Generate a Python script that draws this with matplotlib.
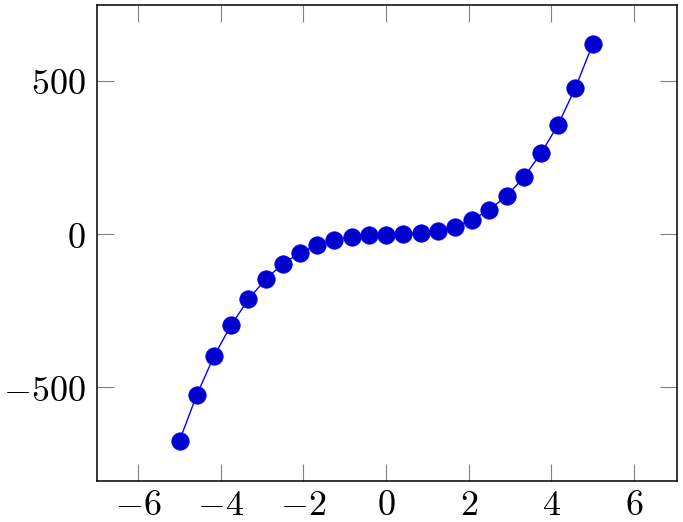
import matplotlib
matplotlib.use('Agg')
from matplotlib import pyplot as plt

plt.rcParams['mathtext.fontset'] = 'cm'

# sample positions and values
xs = [-5 + i * 10 / 24 for i in range(25)]
ys = [-673, -524, -398, -296, -213, -147, -97, -61, -36, -18,
      -9, -4, -2, 0, 3, 11, 24, 46, 80, 124,
      185, 263, 357, 477, 618]

xticks = [-6, -4, -2, 0, 2, 4, 6]
yticks = [-500, 0, 500]

fig = plt.figure(figsize=(6.83, 5.22), dpi=100)
ax = fig.add_axes([0.142, 0.0785, 0.849, 0.9115])

ax.plot(xs, ys, color='#0000ff', lw=1.0, marker='o', markersize=12.5,
        markerfacecolor='#0000cc', markeredgecolor='#0000ff', markeredgewidth=0.6)

ax.set_xlim(-7, 7.04)
ax.set_ylim(-805, 746)

ax.set_xticks(xticks)
ax.set_xticklabels(['$%d$' % v for v in xticks])
ax.set_yticks(yticks)
ax.set_yticklabels(['$%d$' % v for v in yticks])

ax.tick_params(direction='in', length=12, width=0.8, color='#808080',
               top=True, right=True, labelsize=26)
ax.tick_params(axis='x', pad=5)
ax.tick_params(axis='y', pad=8)
for s in ax.spines.values():
    s.set_linewidth(1.1)

fig.savefig('out.png', dpi=100)
